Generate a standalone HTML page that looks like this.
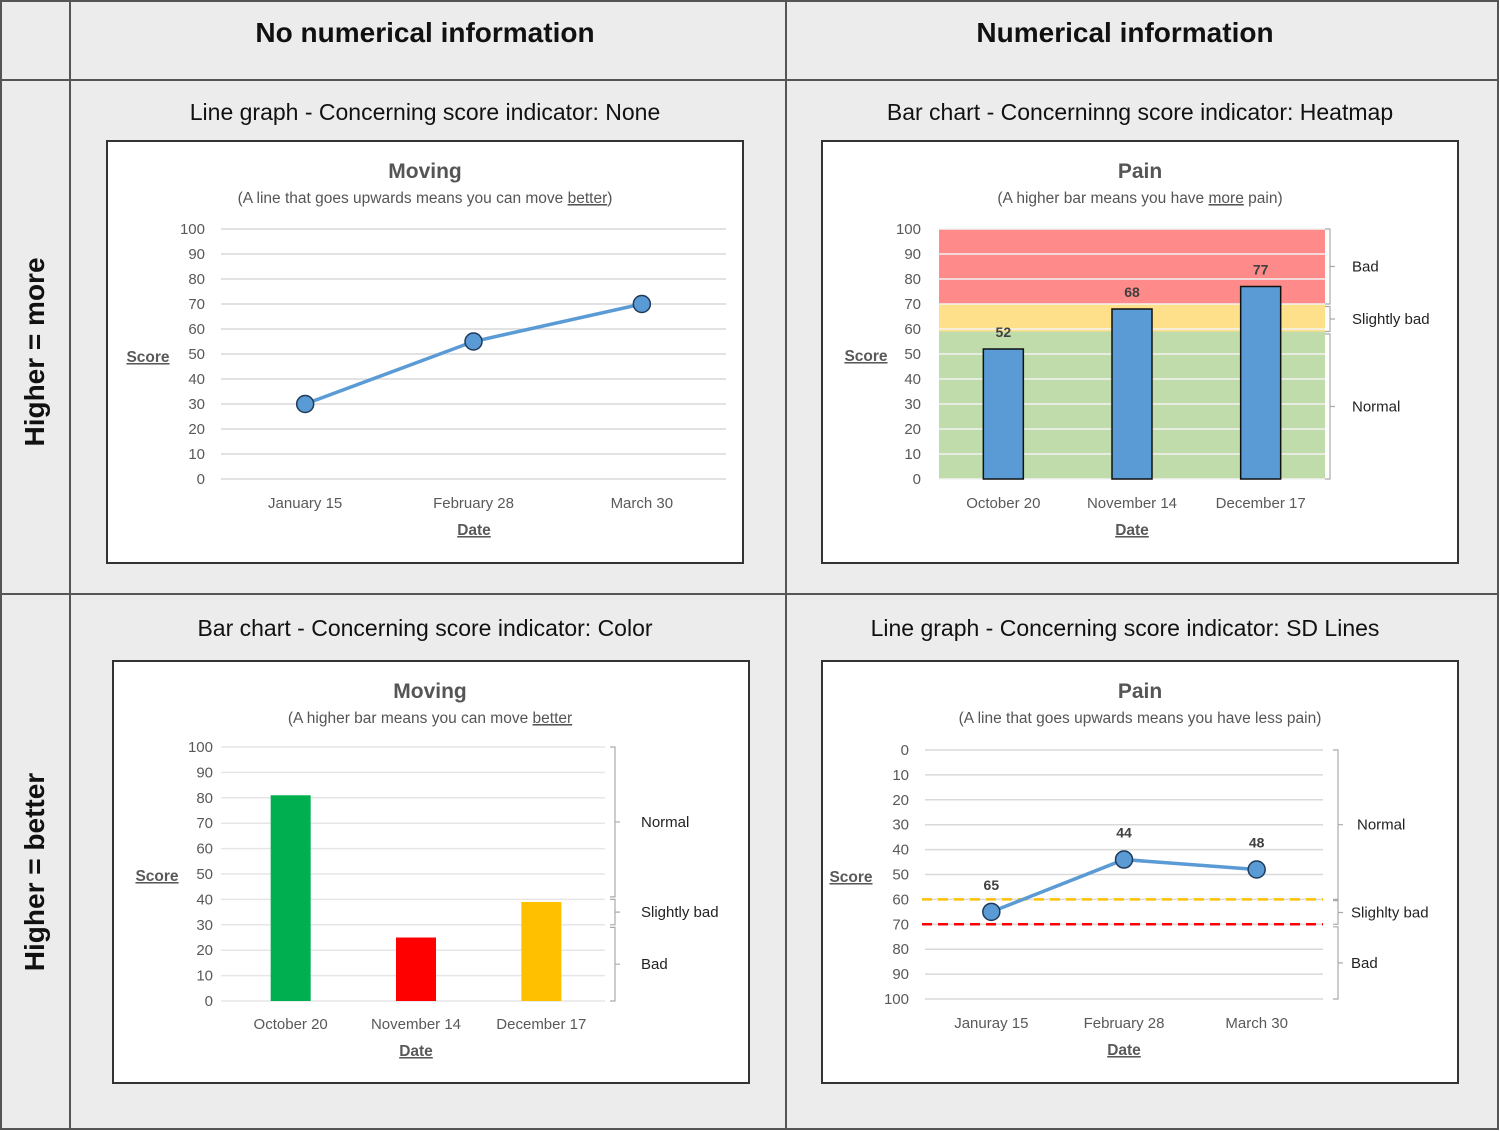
<!DOCTYPE html>
<html><head><meta charset="utf-8"><style>
html,body{margin:0;padding:0;background:#fff}
svg{display:block;font-family:"Liberation Sans",sans-serif}
</style></head><body>
<svg id="s" width="1500" height="1131" viewBox="0 0 1500 1131" xmlns="http://www.w3.org/2000/svg">
<rect x="1" y="1" width="1497" height="1128" fill="#ececec" stroke="#555" stroke-width="2"/>
<line x1="70" y1="1" x2="70" y2="1129" stroke="#555" stroke-width="2"/>
<line x1="786" y1="1" x2="786" y2="1129" stroke="#555" stroke-width="2"/>
<line x1="1" y1="80" x2="1498" y2="80" stroke="#555" stroke-width="2"/>
<line x1="1" y1="594" x2="1498" y2="594" stroke="#555" stroke-width="2"/>
<text x="425" y="42" font-size="28" font-weight="bold" text-anchor="middle" fill="#111">No numerical information</text>
<text x="1125" y="42" font-size="28" font-weight="bold" text-anchor="middle" fill="#111">Numerical information</text>
<text transform="translate(44,352) rotate(-90)" font-size="28" font-weight="bold" text-anchor="middle" fill="#111">Higher = more</text>
<text transform="translate(44,872) rotate(-90)" font-size="28" font-weight="bold" text-anchor="middle" fill="#111">Higher = better</text>
<text x="425" y="120" font-size="23" text-anchor="middle" fill="#111">Line graph - Concerning score indicator: None</text>
<text x="1140" y="120" font-size="23" text-anchor="middle" fill="#111">Bar chart - Concerninng score indicator: Heatmap</text>
<text x="425" y="636" font-size="23" text-anchor="middle" fill="#111">Bar chart - Concerning score indicator: Color</text>
<text x="1125" y="636" font-size="23" text-anchor="middle" fill="#111">Line graph - Concerning score indicator: SD Lines</text>
<g id="g"></g>
</svg>
<script>
// Chart 1: Moving line
const c1Cats = ["January 15", "February 28", "March 30"];
const c1Vals = [30, 55, 70];
// Chart 2: Pain bars with heatmap
const c2Cats = ["October 20", "November 14", "December 17"];
const c2Vals = [52, 68, 77];
const c2Bands = [[0, 59, "#c0dcab"], [59, 70, "#fee08b"], [70, 100, "#fe8a89"]];
// Chart 3: Moving colored bars
const c3Cats = ["October 20", "November 14", "December 17"];
const c3Vals = [81, 25, 39];
const c3Colors = ["#00b050", "#ff0000", "#ffc000"];
// Chart 4: Pain line with SD lines (inverted axis)
const c4Cats = ["Januray 15", "February 28", "March 30"];
const c4Vals = [65, 44, 48];
const c4Thresholds = [60, 70];
const ticks = [0, 10, 20, 30, 40, 50, 60, 70, 80, 90, 100];

const NS = "http://www.w3.org/2000/svg";
const G = document.getElementById("g");
function mk(tag, attrs, parent, text) {
  const e = document.createElementNS(NS, tag);
  for (const k in attrs) e.setAttribute(k, attrs[k]);
  if (text !== undefined) e.textContent = text;
  (parent || G).appendChild(e);
  return e;
}
function scaleY(y0, y100) { return v => y0 + (y100 - y0) * v / 100; }
function scaleX(x0, x1, n) { return i => x0 + (x1 - x0) * (i + 0.5) / n; }

function frame(b, title, sub, name) {
  const g = mk("g", {});
  
  
  const r = mk("rect", {x: b.x, y: b.y, width: b.w, height: b.h, fill: "#fff", stroke: "#333", "stroke-width": 2}, g);
  
  
  const t = mk("text", {x: b.cx, y: b.y + 37, "font-size": 21, "font-weight": "bold", "text-anchor": "middle", fill: "#555"}, g, title);
  
  
  const s = mk("text", {x: b.cx, y: b.y + 62, "font-size": 15.5, "text-anchor": "middle", fill: "#555"}, g);
  
  
  sub.forEach(p => { const ts = mk("tspan", p[1] ? {"text-decoration": "underline"} : {}, s, p[0]); });
  return g;
}
function axes(g, o) {
  ticks.forEach(v => {
    const y = o.sy(v);
    if (o.grid) {
      const l = mk("line", {x1: o.x0, x2: o.x1, y1: y, y2: y, stroke: o.gridColor || "#d9d9d9", "stroke-width": 1.5}, g);
      
      
    }
    const t = mk("text", {x: o.tx, y: y + 5, "font-size": 15, "text-anchor": "end", fill: "#595959"}, g, String(v));
    
    
  });
  o.cats.forEach((c, i) => {
    const t = mk("text", {x: o.sx(i), y: o.catY, "font-size": 15, "text-anchor": "middle", fill: "#595959"}, g, c);
    
    
  });
  const yt = mk("text", {x: o.scoreX, y: o.scoreY, "font-size": 15.5, "font-weight": "bold", "text-anchor": "middle", fill: "#595959", "text-decoration": "underline"}, g, "Score");
  
  
  const xt = mk("text", {x: o.dateX, y: o.catY + 27, "font-size": 15.5, "font-weight": "bold", "text-anchor": "middle", fill: "#595959", "text-decoration": "underline"}, g, "Date");
  
  
}
function brace(g, x, ya, yb, label, lx) {
  const p = mk("path", {d: `M${x - 5} ${ya} H${x} V${yb} H${x - 5} M${x} ${(ya + yb) / 2} H${x + 5}`, fill: "none", stroke: "#aaa", "stroke-width": 1.2}, g);
  
  
  const t = mk("text", {x: lx, y: (ya + yb) / 2 + 5, "font-size": 15, fill: "#222"}, g, label);
  
  
}

// ---- Chart 1
(function () {
  const g = frame({x: 107, y: 141, w: 636, h: 422, cx: 425}, "Moving", [["(A line that goes upwards means you can move "], ["better", 1], [")"]], "chart-moving-line");
  const sy = scaleY(479, 229), sx = scaleX(221, 726, 3);
  axes(g, {sy, sx, x0: 221, x1: 726, grid: true, tx: 205, cats: c1Cats, catY: 508, scoreX: 148, scoreY: 362, dateX: 474});
  const pl = mk("polyline", {points: c1Vals.map((v, i) => sx(i) + "," + sy(v)).join(" "), fill: "none", stroke: "#5b9bd5", "stroke-width": 3.5}, g);
  
  
  c1Vals.forEach((v, i) => {
    const c = mk("circle", {cx: sx(i), cy: sy(v), r: 8.5, fill: "#5b9bd5", stroke: "#1f3a5a", "stroke-width": 1.5}, g);
    
    
  });
})();

// ---- Chart 2
(function () {
  const g = frame({x: 822, y: 141, w: 636, h: 422, cx: 1140}, "Pain", [["(A higher bar means you have "], ["more", 1], [" pain)"]], "chart-pain-heatmap");
  const sy = scaleY(479, 229), sx = scaleX(939, 1325, 3);
  c2Bands.forEach(b => {
    const r = mk("rect", {x: 939, y: sy(b[1]), width: 386, height: sy(b[0]) - sy(b[1]), fill: b[2]}, g);
    
    
  });
  axes(g, {sy, sx, x0: 939, x1: 1325, grid: true, gridColor: "#f2f2f2", tx: 921, cats: c2Cats, catY: 508, scoreX: 866, scoreY: 361, dateX: 1132});
  c2Vals.forEach((v, i) => {
    const r = mk("rect", {x: sx(i) - 20, y: sy(v), width: 40, height: sy(0) - sy(v), fill: "#5b9bd5", stroke: "#111", "stroke-width": 1.5}, g);
    
    
    const t = mk("text", {x: sx(i), y: sy(v) - 12, "font-size": 14, "font-weight": "bold", "text-anchor": "middle", fill: "#404040"}, g, String(v));
    
    
  });
  brace(g, 1330, sy(100), sy(70), "Bad", 1352);
  brace(g, 1330, sy(69), sy(59), "Slightly bad", 1352);
  brace(g, 1330, sy(58), sy(0), "Normal", 1352);
})();

// ---- Chart 3
(function () {
  const g = frame({x: 113, y: 661, w: 636, h: 422, cx: 430}, "Moving", [["(A higher bar means you can move "], ["better", 1]], "chart-moving-bars");
  const sy = scaleY(1001, 747), sx = scaleX(228, 604, 3);
  axes(g, {sy, sx, x0: 221, x1: 605, grid: true, gridColor: "#e6e6e6", tx: 213, cats: c3Cats, catY: 1029, scoreX: 157, scoreY: 881, dateX: 416});
  c3Vals.forEach((v, i) => {
    const r = mk("rect", {x: sx(i) - 20, y: sy(v), width: 40, height: sy(0) - sy(v), fill: c3Colors[i]}, g);
    
    
  });
  brace(g, 615, sy(100), sy(41), "Normal", 641);
  brace(g, 615, sy(40), sy(30), "Slightly bad", 641);
  brace(g, 615, sy(29), sy(0), "Bad", 641);
})();

// ---- Chart 4
(function () {
  const g = frame({x: 822, y: 661, w: 636, h: 422, cx: 1140}, "Pain", [["(A line that goes upwards means you have less pain)"]], "chart-pain-sd-lines");
  const sy = scaleY(750, 999), sx = scaleX(925, 1323, 3);
  axes(g, {sy, sx, x0: 925, x1: 1323, grid: true, tx: 909, cats: c4Cats, catY: 1028, scoreX: 851, scoreY: 882, dateX: 1124});
  const tc = ["#ffc000", "#ff0000"];
  c4Thresholds.forEach((v, i) => {
    const l = mk("line", {x1: 922, x2: 1323, y1: sy(v), y2: sy(v), stroke: tc[i], "stroke-width": 2.5, "stroke-dasharray": "10 6"}, g);
    
    
  });
  const pl = mk("polyline", {points: c4Vals.map((v, i) => sx(i) + "," + sy(v)).join(" "), fill: "none", stroke: "#5b9bd5", "stroke-width": 3.5}, g);
  
  
  c4Vals.forEach((v, i) => {
    const c = mk("circle", {cx: sx(i), cy: sy(v), r: 8.5, fill: "#5b9bd5", stroke: "#1f3a5a", "stroke-width": 1.5}, g);
    
    
    const t = mk("text", {x: sx(i), y: sy(v) - 22, "font-size": 14, "font-weight": "bold", "text-anchor": "middle", fill: "#404040"}, g, String(v));
    
    
  });
  brace(g, 1338, sy(0), sy(60), "Normal", 1357);
  brace(g, 1338, sy(60.5), sy(70), "Slighlty bad", 1351);
  brace(g, 1338, sy(71), sy(100), "Bad", 1351);
})();
</script>
</body></html>
